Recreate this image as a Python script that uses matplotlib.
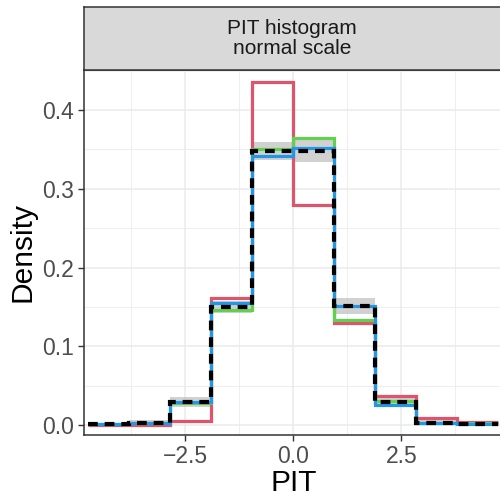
import numpy as np
import matplotlib
matplotlib.use("Agg")
import matplotlib.pyplot as plt

plt.rcParams['font.family'] = ['Liberation Sans', 'DejaVu Sans']
plt.rcParams['lines.scale_dashes'] = False

# bin edges of the PIT histogram
edges = [-4.75, -3.8, -2.85, -1.9, -0.95, 0.0, 0.95, 1.9, 2.85, 3.8, 4.75]

red = [0.0, 0.0005, 0.0055, 0.161, 0.436, 0.280, 0.129, 0.037, 0.0085, 0.004]
green = [0.001, 0.003, 0.028, 0.146, 0.350, 0.364, 0.133, 0.031, 0.003, 0.002]
blue = [0.001, 0.003, 0.029, 0.155, 0.342, 0.352, 0.151, 0.025, 0.003, 0.001]
black = [0.001, 0.003, 0.029, 0.150, 0.348, 0.348, 0.151, 0.029, 0.003, 0.001]
band_low = [0.0, 0.0, 0.023, 0.142, 0.336, 0.334, 0.141, 0.023, 0.0, 0.0]
band_high = [0.002, 0.006, 0.035, 0.158, 0.360, 0.362, 0.161, 0.035, 0.006, 0.002]

xticks = [-2.5, 0.0, 2.5]
xticklabels = ["\u22122.5", "0.0", "2.5"]
yticks = [0.0, 0.1, 0.2, 0.3, 0.4]
yticklabels = ["0.0", "0.1", "0.2", "0.3", "0.4"]

W, H = 500, 496
fig = plt.figure(figsize=(W / 100, H / 100), dpi=100)

pl, pr, pt, pb = 84, 503, 70, 435
ax = fig.add_axes([pl / W, (H - pb) / H, (pr - pl) / W, (pb - pt) / H])
ax.set_facecolor('white')

ax.stairs(band_high, edges, baseline=band_low, fill=True, color='#BEBEBE',
          alpha=0.7, linewidth=0, zorder=2)
ax.stairs(red, edges, baseline=None, color='#DF536B', linewidth=2.3, zorder=3)
ax.stairs(green, edges, baseline=None, color='#61D04F', linewidth=2.3, zorder=4)
ax.stairs(blue, edges, baseline=None, color='#2297E6', linewidth=2.3, zorder=5)
ax.stairs(black, edges, baseline=None, color='black', linewidth=3.0,
          linestyle=(0, (7, 5)), zorder=6)

ax.set_xlim(-4.845, 4.855)
ax.set_ylim(-0.0127, 0.4508)

ax.set_xticks(xticks)
ax.set_xticklabels(xticklabels)
ax.set_yticks(yticks)
ax.set_yticklabels(yticklabels)
ax.set_xticks([-3.75, -1.25, 1.25, 3.75], minor=True)
ax.set_yticks([0.05, 0.15, 0.25, 0.35, 0.45], minor=True)
ax.grid(True, which='major', color='#EBEBEB', linewidth=1.1, zorder=0)
ax.grid(True, which='minor', color='#EBEBEB', linewidth=0.6, zorder=0)
ax.set_axisbelow(True)
ax.tick_params(which='minor', length=0)
ax.tick_params(which='major', length=4, width=1.0, color='#333333',
               labelcolor='#4D4D4D', labelsize=16.5, pad=3)
for s in ax.spines.values():
    s.set_color('#333333')
    s.set_linewidth(1.1)

ax.set_xlabel("PIT", fontsize=21.5, color='black', labelpad=1)
ax.set_ylabel("Density", fontsize=21.5, color='black', labelpad=4)

# facet strip
st, sb = 7, 70
sax = fig.add_axes([pl / W, (H - sb) / H, (pr - pl) / W, (sb - st) / H])
sax.set_facecolor('#D9D9D9')
sax.set_xticks([])
sax.set_yticks([])
for s in sax.spines.values():
    s.set_color('#333333')
    s.set_linewidth(1.1)
sax.text(0.5 * (W - pl) / (pr - pl), 0.5, "PIT histogram\nnormal scale",
         transform=sax.transAxes, ha='center', va='center', fontsize=15,
         color='#1A1A1A', linespacing=1.1)

fig.savefig("out.png", dpi=100)
